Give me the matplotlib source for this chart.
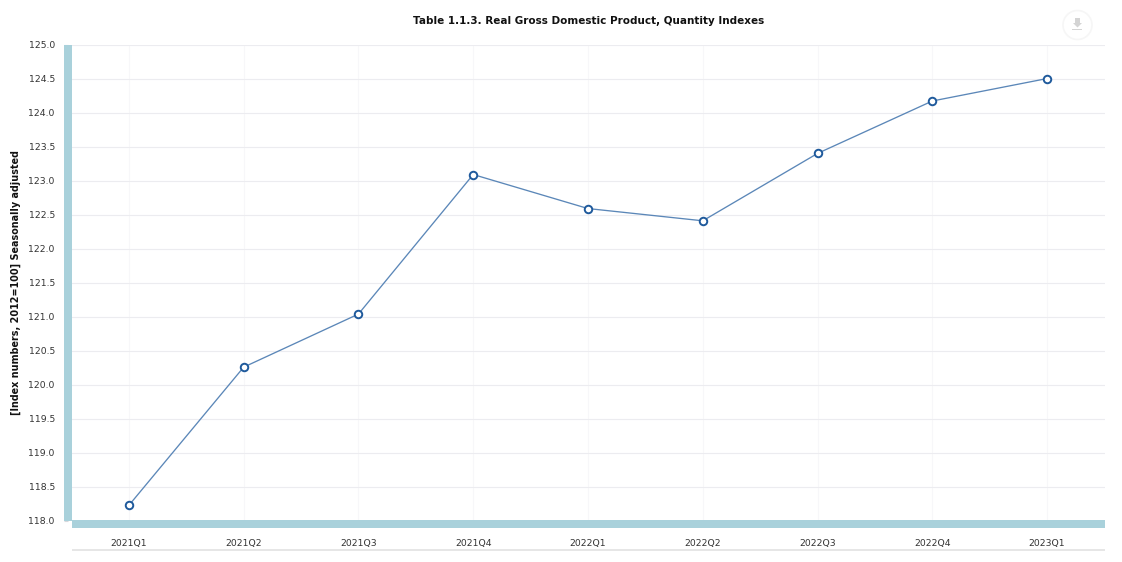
import matplotlib
matplotlib.use("Agg")
import matplotlib.pyplot as plt
from matplotlib.patches import Circle, Rectangle, Polygon

W = 1122
H = 562

quarters = ["2021Q1", "2021Q2", "2021Q3", "2021Q4", "2022Q1", "2022Q2", "2022Q3", "2022Q4", "2023Q1"]
index_values = [118.23, 120.26, 121.04, 123.09, 122.59, 122.41, 123.40, 124.17, 124.50]
y_ticks = [118.0, 118.5, 119.0, 119.5, 120.0, 120.5, 121.0, 121.5, 122.0, 122.5, 123.0, 123.5, 124.0, 124.5, 125.0]

TEAL = "#a9d1db"
TEXT = "#333333"


def px(x, y):
    # pixel from top left to figure fraction
    return x / W, 1 - y / H


fig = plt.figure(figsize=(W / 100, H / 100), dpi=100)
left, bottom = px(71.5, 521)
right, top = px(1104.5, 44.5)
ax = fig.add_axes([left, bottom, right - left, top - bottom])

ax.plot(range(len(quarters)), index_values, color="#5b87b8", lw=0.95, marker="o", ms=5.4,
        mfc="white", mec="#1f5a9c", mew=1.4, zorder=5, clip_on=False)

ax.set_xlim(-0.5, 8.5)
ax.set_ylim(118, 125)
ax.set_xticks(range(len(quarters)))
ax.set_xticklabels(quarters)
ax.set_yticks(y_ticks)
ax.set_yticklabels(["%.1f" % v for v in y_ticks])
ax.grid(axis="y", color="#ececf0", lw=0.8)
ax.grid(axis="x", color="#f7f7f9", lw=0.8)
ax.set_axisbelow(True)

for s in ["top", "right"]:
    ax.spines[s].set_visible(False)
ax.spines["left"].set_position(("outward", 2.5))
ax.spines["left"].set_linewidth(5.76)
ax.spines["left"].set_color(TEAL)
ax.spines["left"].set_capstyle("butt")
ax.spines["bottom"].set_position(("outward", 2.2))
ax.spines["bottom"].set_linewidth(5.76)
ax.spines["bottom"].set_color(TEAL)
ax.spines["bottom"].set_capstyle("butt")

ax.tick_params(axis="y", labelsize=6.7, labelcolor=TEXT, color="#d8d8dc", length=3, width=0.8, pad=6.5)
ax.tick_params(axis="x", labelsize=6.7, labelcolor=TEXT, color="#d8d8dc", length=2.5, width=0.8, pad=8)

fig.text(*px(16, 283), "[Index numbers, 2012=100] Seasonally adjusted", rotation=90, fontsize=6.9,
         fontweight="bold", color="#111111", ha="center", va="center")

fig.text(*px(588.5, 21), "Table 1.1.3. Real Gross Domestic Product, Quantity Indexes", fontsize=7.45,
         fontweight="bold", color="#111111", ha="center", va="center")

# gray line under the x labels
x0, y0 = px(72, 551)
fig.add_artist(Rectangle((x0, y0), (1105 - 72) / W, 2 / H, transform=fig.transFigure, color="#e6e6e6", lw=0))

# export button, top right
sx = fig.add_axes([0, 0, 1, 1], facecolor="none")
sx.set_xlim(0, W)
sx.set_ylim(H, 0)
sx.axis("off")
sx.add_patch(Circle((1077.5, 25), 14.5, fc="white", ec="#f6f6f6", lw=1.2))
sx.add_patch(Polygon([(1075, 18), (1080, 18), (1080, 23), (1082, 23), (1077.5, 27.5), (1073, 23), (1075, 23)],
                     fc="#d4d4d4", ec="none"))
sx.add_patch(Rectangle((1072.5, 28.5), 10, 1.5, fc="#d4d4d4", ec="none"))

fig.savefig("out.png", dpi=100, facecolor="white")
